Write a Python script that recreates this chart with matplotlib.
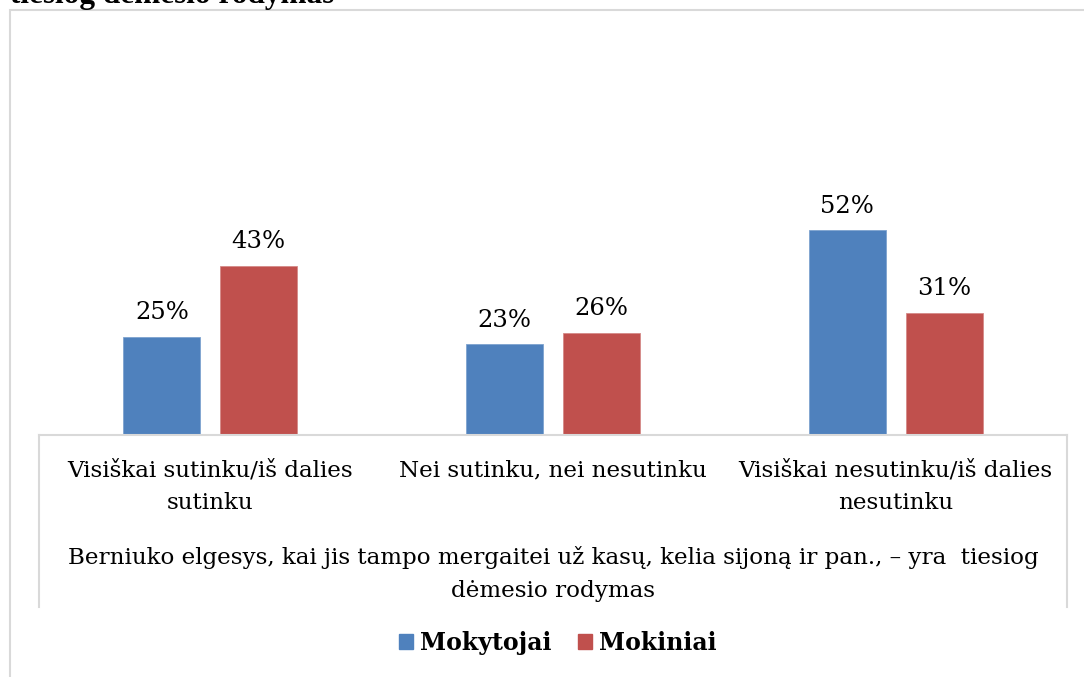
import matplotlib.pyplot as plt
from matplotlib.patches import Patch, Rectangle
from matplotlib.lines import Line2D
import numpy as np

categories = ["Visiškai sutinku/iš dalies\nsutinku",
              "Nei sutinku, nei nesutinku",
              "Visiškai nesutinku/iš dalies\nnesutinku"]
mokytojai = [25, 23, 52]
mokiniai = [43, 26, 31]
series_names = ["Mokytojai", "Mokiniai"]
axis_title = "Berniuko elgesys, kai jis tampo mergaitei už kasų, kelia sijoną ir pan., – yra  tiesiog\ndėmesio rodymas"
cut_title = "tiesiog dėmesio rodymas"

blue = "#4F81BD"
red = "#C0504D"
grey = "#D9D9D9"
W, H = 1084, 677

plt.rcParams['font.family'] = ['DejaVu Serif']

fig = plt.figure(figsize=(W / 100, H / 100), dpi=100)

# outer frame, runs off the right and bottom edges
fig.patches.append(Rectangle((10 / W, -0.1), 1.2, 1 - 10 / H + 0.1, transform=fig.transFigure,
                             fill=False, edgecolor=grey, lw=1.5))
# title from the page above, cut by the top edge like in the source
fig.text(10 / W, 1 - 3 / H, cut_title, fontfamily='Liberation Serif', fontweight='bold',
         fontsize=22.5, ha='left', va='baseline')

ax = fig.add_axes([39 / W, 1 - 435 / H, 1028 / W, 405 / H])
x = np.arange(len(categories))
w = 0.2245
off = 0.1414
b1 = ax.bar(x - off, mokytojai, w, color=blue, edgecolor='#7EA3CF', lw=0.6)
b2 = ax.bar(x + off, mokiniai, w, color=red, edgecolor='#D58A88', lw=0.6)
for bars in (b1, b2):
    ax.bar_label(bars, labels=[f"{v}%" for v in bars.datavalues], padding=9, fontsize=17.5)

ax.set_xlim(-0.5, 2.5)
ax.set_ylim(0, 102.8)
ax.set_yticks([])
for s in ('top', 'left', 'right'):
    ax.spines[s].set_visible(False)
ax.spines['bottom'].set_color(grey)
ax.spines['bottom'].set_linewidth(1.5)
ax.set_xticks(x)
ax.set_xticklabels(categories, fontsize=16.6, linespacing=1.65)
ax.tick_params(axis='x', length=0, pad=17.5)
ax.set_xlabel(axis_title, fontsize=16.6, linespacing=1.65, labelpad=23)

# side lines of the category box
for xx in (39, 1067):
    fig.add_artist(Line2D([xx / W, xx / W], [1 - 435 / H, 1 - 607 / H], transform=fig.transFigure,
                          color=grey, lw=1.5))

handles = [Patch(color=blue), Patch(color=red)]
fig.legend(handles, series_names, loc='center', bbox_to_anchor=(558 / W, 1 - 643 / H), ncol=2,
           frameon=False, prop={'weight': 'bold', 'size': 17}, handlelength=0.6, handleheight=0.6,
           handletextpad=0.3, columnspacing=1.1)

fig.savefig("out.png", dpi=100)
